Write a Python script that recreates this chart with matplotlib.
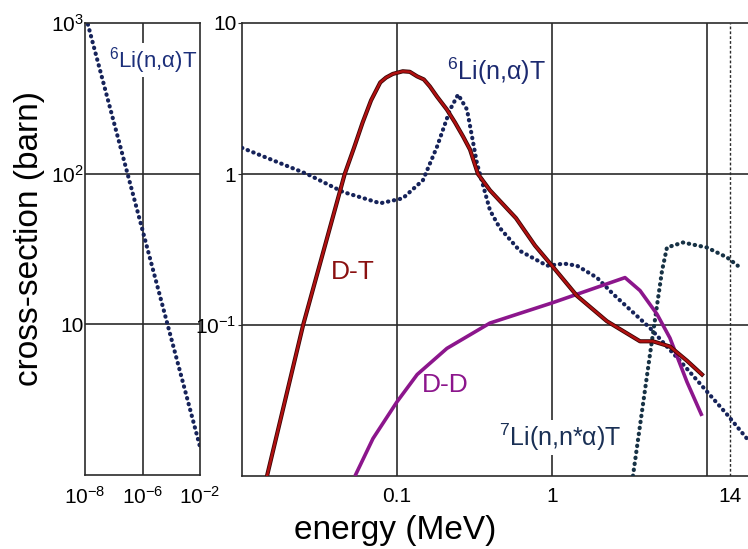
import numpy as np
import matplotlib
matplotlib.use('Agg')
import matplotlib.pyplot as plt
import matplotlib.patheffects as pe

plt.rcParams['font.family'] = ['Liberation Sans', 'DejaVu Sans']
plt.rcParams['mathtext.fontset'] = 'custom'
plt.rcParams['mathtext.rm'] = 'Liberation Sans'
plt.rcParams['mathtext.default'] = 'regular'

# left panel: thermal 6Li(n,a)T, x in tick index units (10^-8, 10^-6, 10^-2)
li6_low_x = [0.05, 2.0]
li6_low_y = [980, 1.54]
low_xticks = [0, 1, 2]
low_xlabels = [r'$10^{-8}$', r'$10^{-6}$', r'$10^{-2}$']
low_yticks = [10, 100, 1000]
low_ylabels = ['10', r'$10^{2}$', r'$10^{3}$']

# right panel (MeV, barn)
dt_x = [0.0145, 0.0248, 0.046, 0.0528, 0.060, 0.068, 0.078, 0.085, 0.094, 0.109, 0.121,
        0.135, 0.149, 0.163, 0.181, 0.210, 0.237, 0.267, 0.296, 0.333, 0.398, 0.586,
        0.777, 1.0, 1.45, 2.26, 3.7, 4.48, 5.77, 7.43, 9.29]
dt_y = [0.01, 0.1, 1.0, 1.49, 2.19, 3.07, 4.04, 4.35, 4.6, 4.79, 4.75,
        4.43, 4.23, 3.80, 3.26, 2.67, 2.19, 1.77, 1.45, 1.0, 0.78, 0.51,
        0.336, 0.247, 0.156, 0.106, 0.078, 0.078, 0.072, 0.058, 0.047]

dd_x = [0.0536, 0.070, 0.1, 0.135, 0.21, 0.398, 1.0, 2.96, 3.7, 4.76, 5.77, 7.43, 9.29]
dd_y = [0.01, 0.0177, 0.031, 0.047, 0.070, 0.103, 0.14, 0.206, 0.169, 0.118, 0.082, 0.042, 0.025]

li6_x = [0.01, 0.0263, 0.0449, 0.078, 0.109, 0.147, 0.181, 0.22, 0.248, 0.283, 0.328,
         0.398, 0.46, 0.62, 0.93, 1.2, 1.45, 1.95, 2.47, 4.29, 6.69, 13.5, 18.1]
li6_y = [1.49, 1.0, 0.76, 0.64, 0.69, 0.91, 1.51, 2.67, 3.36, 2.67, 1.18,
         0.575, 0.44, 0.31, 0.247, 0.255, 0.247, 0.206, 0.161, 0.0955, 0.058, 0.0255, 0.0177]

li7_x = [3.33, 4.29, 5.13, 5.52, 7.0, 10, 13.5, 15.8]
li7_y = [0.01, 0.064, 0.229, 0.326, 0.352, 0.326, 0.28, 0.247]

hi_xticks = [0.1, 1, 14]
hi_xlabels = ['0.1', '1', '14']
hi_yticks = [0.1, 1, 10]
hi_ylabels = [r'$10^{-1}$', '1', '10']

GRID = '#2b2b2b'
NAVY = '#16235a'
DOTS = (0, (0.1, 1.35))

fig = plt.figure(figsize=(7.48, 5.49), dpi=100)
ax1 = fig.add_axes([85/748, 74/549, 115/748, 452/549])
ax2 = fig.add_axes([242/748, 73/549, 506/748, 453/549])

# ---- left panel
ax1.set_yscale('log')
ax1.set_xlim(0, 2)
ax1.set_ylim(1, 1000)
ax1.plot(li6_low_x, li6_low_y, color=NAVY, lw=3.0, linestyle=DOTS, dash_capstyle='round')
ax1.set_xticks(low_xticks)
ax1.set_xticklabels(low_xlabels)
ax1.set_yticks(low_yticks)
ax1.set_yticklabels(low_ylabels)
ax1.yaxis.set_minor_locator(matplotlib.ticker.NullLocator())
for yy in [10, 100]:
    ax1.axhline(yy, color=GRID, lw=1.2, zorder=0)
ax1.axvline(1, color=GRID, lw=1.2, zorder=0)
ax1.text(0.59, 0.918, r'$^{6}$Li(n,α)T', transform=ax1.transAxes, ha='center', va='center',
         fontsize=16, color='#1c2f7a', bbox=dict(facecolor='white', edgecolor='none', pad=1))

# ---- right panel
ax2.set_xscale('log')
ax2.set_yscale('log')
ax2.set_xlim(0.01, 18.4)
ax2.set_ylim(0.01, 10)
for xx in [0.1, 1, 10]:
    ax2.axvline(xx, color=GRID, lw=1.2, zorder=0)
ax2.axvline(14, color=GRID, lw=1.0, linestyle=(0, (2, 1.5)), zorder=0)
for yy in [0.1, 1]:
    ax2.axhline(yy, color=GRID, lw=1.2, zorder=0)

ax2.plot(li6_x, li6_y, color=NAVY, lw=3.0, linestyle=DOTS, dash_capstyle='round', zorder=3)
ax2.plot(li7_x, li7_y, color='#173245', lw=3.0, linestyle=DOTS, dash_capstyle='round', zorder=3)
ax2.plot(dd_x, dd_y, color='#8c168c', lw=2.6, solid_capstyle='butt', zorder=4)
ax2.plot(dt_x, dt_y, color='#b01010', lw=1.8, zorder=5,
         path_effects=[pe.Stroke(linewidth=3.0, foreground='#3a0505'), pe.Normal()])

ax2.set_xticks(hi_xticks)
ax2.set_xticklabels(hi_xlabels)
ax2.xaxis.set_minor_locator(matplotlib.ticker.NullLocator())
ax2.set_yticks(hi_yticks)
ax2.set_yticklabels(hi_ylabels)
ax2.yaxis.set_minor_locator(matplotlib.ticker.NullLocator())
ax2.spines['right'].set_visible(False)

ax2.text(0.44, 4.8, r'$^{6}$Li(n,α)T', ha='center', va='center', fontsize=18, color='#1c2a70',
         bbox=dict(facecolor='white', edgecolor='none', pad=1), zorder=6)
ax2.text(0.052, 0.225, 'D-T', ha='center', va='center', fontsize=19, color='#8a1010', zorder=6)
ax2.text(0.204, 0.040, 'D-D', ha='center', va='center', fontsize=19, color='#8c168c', zorder=6)
ax2.text(1.13, 0.018, r'$^{7}$Li(n,n*α)T', ha='center', va='center', fontsize=18, color='#1a3055',
         bbox=dict(facecolor='white', edgecolor='none', pad=1), zorder=6)

for ax in (ax1, ax2):
    for s in ax.spines.values():
        s.set_color(GRID)
        s.set_linewidth(1.2)
    ax.tick_params(axis='x', length=0, pad=8, labelsize=15)
    ax.tick_params(axis='y', length=0, pad=1, labelsize=15)
ax2.tick_params(axis='y', length=3, color=GRID)

fig.text(395/748, 1 - 530/549, 'energy (MeV)', ha='center', va='center', fontsize=24)
fig.text(30/748, 1 - 238/549, 'cross-section (barn)', ha='center', va='center', fontsize=24,
         rotation=90)

fig.savefig('out.png', dpi=100)
